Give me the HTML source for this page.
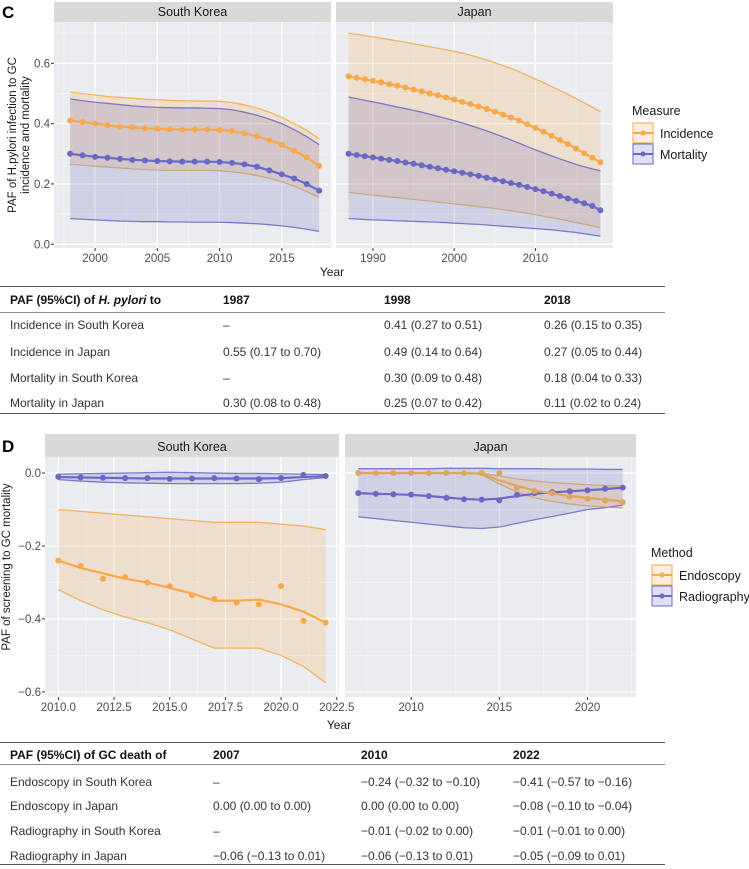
<!DOCTYPE html>
<html><head><meta charset="utf-8">
<style>
body{margin:0;width:749px;height:869px;background:#fff;font-family:"Liberation Sans",sans-serif;overflow:hidden;position:relative}
svg{position:absolute;left:0;top:0}
.t{position:absolute;font-size:12px;color:#333;white-space:nowrap;line-height:14px}
.b{font-weight:bold;color:#111}
.hl{position:absolute;left:0;width:665px;height:1px;background:#555}
</style></head><body>
<svg id="c" width="749" height="869"></svg>

<div class="hl" style="top:286px"></div>
<div class="t b" style="left:10px;top:293px">PAF (95%CI) of <i>H. pylori</i> to</div>
<div class="t b" style="left:223px;top:293px">1987</div>
<div class="t b" style="left:384px;top:293px">1998</div>
<div class="t b" style="left:544px;top:293px">2018</div>
<div class="hl" style="top:312px;background:#888"></div>
<div>
<div class="t" style="left:10px;top:318px">Incidence in South Korea</div><div class="t" style="left:223px;top:318px">–</div><div class="t" style="left:384px;top:318px">0.41 (0.27 to 0.51)</div><div class="t" style="left:544px;top:318px">0.26 (0.15 to 0.35)</div></div>
<div>
<div class="t" style="left:10px;top:345px">Incidence in Japan</div><div class="t" style="left:223px;top:345px">0.55 (0.17 to 0.70)</div><div class="t" style="left:384px;top:345px">0.49 (0.14 to 0.64)</div><div class="t" style="left:544px;top:345px">0.27 (0.05 to 0.44)</div></div>
<div>
<div class="t" style="left:10px;top:371px">Mortality in South Korea</div><div class="t" style="left:223px;top:371px">–</div><div class="t" style="left:384px;top:371px">0.30 (0.09 to 0.48)</div><div class="t" style="left:544px;top:371px">0.18 (0.04 to 0.33)</div></div>
<div>
<div class="t" style="left:10px;top:396px">Mortality in Japan</div><div class="t" style="left:223px;top:396px">0.30 (0.08 to 0.48)</div><div class="t" style="left:384px;top:396px">0.25 (0.07 to 0.42)</div><div class="t" style="left:544px;top:396px">0.11 (0.02 to 0.24)</div></div>
<div class="hl" style="top:413px"></div>

<div class="hl" style="top:742px"></div>
<div class="t b" style="left:10px;top:748px">PAF (95%CI) of GC death of</div>
<div class="t b" style="left:213px;top:748px">2007</div>
<div class="t b" style="left:361px;top:748px">2010</div>
<div class="t b" style="left:513px;top:748px">2022</div>
<div class="hl" style="top:764px;background:#888"></div>
<div>
<div class="t" style="left:10px;top:775px">Endoscopy in South Korea</div><div class="t" style="left:213px;top:775px">–</div><div class="t" style="left:361px;top:775px">−0.24 (−0.32 to −0.10)</div><div class="t" style="left:513px;top:775px">−0.41 (−0.57 to −0.16)</div></div>
<div>
<div class="t" style="left:10px;top:799px">Endoscopy in Japan</div><div class="t" style="left:213px;top:799px">0.00 (0.00 to 0.00)</div><div class="t" style="left:361px;top:799px">0.00 (0.00 to 0.00)</div><div class="t" style="left:513px;top:799px">−0.08 (−0.10 to −0.04)</div></div>
<div>
<div class="t" style="left:10px;top:824px">Radiography in South Korea</div><div class="t" style="left:213px;top:824px">–</div><div class="t" style="left:361px;top:824px">−0.01 (−0.02 to 0.00)</div><div class="t" style="left:513px;top:824px">−0.01 (−0.01 to 0.00)</div></div>
<div>
<div class="t" style="left:10px;top:849px">Radiography in Japan</div><div class="t" style="left:213px;top:849px">−0.06 (−0.13 to 0.01)</div><div class="t" style="left:361px;top:849px">−0.06 (−0.13 to 0.01)</div><div class="t" style="left:513px;top:849px">−0.05 (−0.09 to 0.01)</div></div>
<div class="hl" style="top:864px"></div>

<script>
// ---- Panel C data ----
const skYearsC=[1998,1999,2000,2001,2002,2003,2004,2005,2006,2007,2008,2009,2010,2011,2012,2013,2014,2015,2016,2017,2018];
const skInc=[0.41,0.405,0.40,0.395,0.39,0.388,0.385,0.383,0.381,0.38,0.38,0.38,0.379,0.375,0.368,0.358,0.345,0.33,0.31,0.288,0.26];
const skIncHi=[0.505,0.5,0.495,0.49,0.487,0.484,0.481,0.479,0.477,0.476,0.475,0.475,0.474,0.47,0.462,0.452,0.438,0.421,0.4,0.378,0.35];
const skIncLo=[0.265,0.262,0.259,0.256,0.253,0.25,0.248,0.246,0.245,0.245,0.245,0.245,0.244,0.24,0.235,0.228,0.219,0.207,0.193,0.175,0.155];
const skMor=[0.30,0.295,0.29,0.287,0.283,0.28,0.278,0.276,0.275,0.274,0.274,0.274,0.273,0.27,0.265,0.257,0.245,0.232,0.218,0.2,0.178];
const skMorHi=[0.482,0.476,0.471,0.467,0.463,0.459,0.456,0.454,0.453,0.452,0.452,0.451,0.45,0.446,0.438,0.428,0.415,0.4,0.38,0.357,0.33];
const skMorLo=[0.085,0.083,0.081,0.079,0.077,0.076,0.075,0.075,0.074,0.074,0.073,0.073,0.073,0.072,0.07,0.068,0.065,0.061,0.056,0.05,0.043];
const jpYearsC=[1987,1988,1989,1990,1991,1992,1993,1994,1995,1996,1997,1998,1999,2000,2001,2002,2003,2004,2005,2006,2007,2008,2009,2010,2011,2012,2013,2014,2015,2016,2017,2018];
const jpInc=[0.557,0.552,0.547,0.542,0.537,0.531,0.526,0.52,0.513,0.507,0.5,0.494,0.487,0.48,0.472,0.465,0.457,0.449,0.44,0.43,0.42,0.41,0.398,0.386,0.373,0.36,0.346,0.332,0.317,0.302,0.287,0.272];
const jpIncHi=[0.70,0.696,0.692,0.688,0.683,0.679,0.674,0.67,0.665,0.66,0.655,0.65,0.645,0.64,0.634,0.627,0.619,0.611,0.602,0.593,0.583,0.572,0.56,0.548,0.536,0.523,0.51,0.497,0.483,0.469,0.455,0.44];
const jpIncLo=[0.172,0.169,0.166,0.163,0.16,0.157,0.155,0.152,0.149,0.146,0.143,0.14,0.137,0.134,0.131,0.128,0.125,0.122,0.119,0.115,0.111,0.107,0.103,0.098,0.093,0.088,0.083,0.078,0.072,0.067,0.061,0.055];
const jpMor=[0.30,0.296,0.292,0.288,0.284,0.28,0.276,0.271,0.267,0.262,0.257,0.252,0.247,0.242,0.237,0.232,0.227,0.221,0.215,0.209,0.203,0.197,0.19,0.183,0.176,0.168,0.16,0.152,0.144,0.136,0.127,0.113];
const jpMorHi=[0.488,0.483,0.477,0.472,0.467,0.461,0.455,0.45,0.444,0.438,0.431,0.424,0.417,0.41,0.402,0.394,0.385,0.376,0.366,0.356,0.346,0.335,0.324,0.313,0.303,0.293,0.283,0.274,0.265,0.257,0.25,0.244];
const jpMorLo=[0.085,0.084,0.082,0.081,0.08,0.079,0.078,0.077,0.076,0.075,0.074,0.073,0.072,0.07,0.069,0.067,0.066,0.064,0.062,0.06,0.058,0.056,0.054,0.052,0.05,0.048,0.045,0.042,0.039,0.035,0.031,0.027];
// ---- Panel D data ----
const skYearsD=[2010,2011,2012,2013,2014,2015,2016,2017,2018,2019,2020,2021,2022];
const skEndoPts=[-0.24,-0.255,-0.29,-0.285,-0.30,-0.31,-0.335,-0.345,-0.355,-0.36,-0.31,-0.405,-0.41];
const skEndoFit=[-0.24,-0.26,-0.275,-0.29,-0.30,-0.315,-0.33,-0.35,-0.35,-0.347,-0.36,-0.38,-0.41];
const skEndoHi=[-0.10,-0.105,-0.11,-0.115,-0.12,-0.125,-0.13,-0.135,-0.135,-0.135,-0.14,-0.145,-0.155];
const skEndoLo=[-0.32,-0.35,-0.375,-0.395,-0.41,-0.43,-0.455,-0.48,-0.48,-0.48,-0.50,-0.53,-0.575];
const skRadPts=[-0.01,-0.012,-0.013,-0.014,-0.014,-0.016,-0.015,-0.014,-0.015,-0.017,-0.014,-0.005,-0.008];
const skRadFit=[-0.011,-0.012,-0.013,-0.014,-0.015,-0.015,-0.015,-0.015,-0.015,-0.015,-0.014,-0.011,-0.008];
const skRadHi=[-0.003,-0.002,-0.001,0.0,0.001,0.002,0.001,0.0,-0.001,-0.001,-0.002,-0.003,-0.004];
const skRadLo=[-0.018,-0.022,-0.025,-0.027,-0.028,-0.029,-0.029,-0.029,-0.029,-0.028,-0.025,-0.018,-0.012];
const jpYearsD=[2007,2008,2009,2010,2011,2012,2013,2014,2015,2016,2017,2018,2019,2020,2021,2022];
const jpEndoPts=[0.0,0.0,0.0,0.0,0.0,0.0,0.0,0.0,0.0,-0.04,-0.05,-0.055,-0.065,-0.07,-0.075,-0.08];
const jpEndoFit=[0.0,0.0,0.0,0.0,0.0,0.0,0.0,-0.002,-0.02,-0.035,-0.048,-0.056,-0.063,-0.068,-0.073,-0.078];
const jpEndoHi=[0.0,0.0,0.0,0.0,0.0,0.0,0.0,0.0,-0.008,-0.016,-0.022,-0.026,-0.029,-0.032,-0.034,-0.036];
const jpEndoLo=[0.0,0.0,0.0,0.0,0.0,0.0,0.0,-0.004,-0.03,-0.052,-0.068,-0.078,-0.085,-0.09,-0.093,-0.096];
const jpRadPts=[-0.055,-0.057,-0.058,-0.059,-0.063,-0.068,-0.072,-0.073,-0.075,-0.06,-0.055,-0.052,-0.05,-0.047,-0.043,-0.04];
const jpRadFit=[-0.055,-0.057,-0.058,-0.06,-0.063,-0.067,-0.071,-0.073,-0.07,-0.063,-0.057,-0.053,-0.05,-0.047,-0.044,-0.04];
const jpRadHi=[0.012,0.012,0.012,0.012,0.012,0.013,0.013,0.013,0.012,0.012,0.012,0.011,0.011,0.011,0.01,0.01];
const jpRadLo=[-0.12,-0.125,-0.13,-0.135,-0.14,-0.145,-0.15,-0.152,-0.148,-0.138,-0.128,-0.119,-0.11,-0.1,-0.095,-0.088];

const OR='#F7A94B', PU='#6A68C4';
const svg=document.getElementById('c');
const NS='http://www.w3.org/2000/svg';
function el(tag,attrs,parent){const e=document.createElementNS(NS,tag);for(const k in attrs)e.setAttribute(k,attrs[k]);(parent||svg).appendChild(e);return e;}
function txt(s,x,y,attrs){const t=el('text',Object.assign({x:x,y:y,'font-family':'Liberation Sans, sans-serif'},attrs));t.textContent=s;return t;}

function panel(o){
  const g=el('g',{});
  
  
  const X=v=>o.x0+(v-o.xmin)/(o.xmax-o.xmin)*(o.x1-o.x0);
  const Y=v=>o.y1-(v-o.ymin)/(o.ymax-o.ymin)*(o.y1-o.y0);
  el('rect',{x:o.x0,y:o.y0,width:o.x1-o.x0,height:o.y1-o.y0,fill:'#EBECEF'},g);
  const strip=el('rect',{x:o.x0,y:o.sy,width:o.x1-o.x0,height:o.y0-o.sy,fill:'#D9D9D9'},g);
  
  
  txt(o.title,(o.x0+o.x1)/2,o.y0-6,{'font-size':12.5,'text-anchor':'middle',fill:'#1a1a1a'});
  o.xminor.forEach(v=>el('line',{x1:X(v),x2:X(v),y1:o.y0,y2:o.y1,stroke:'#F6F6F7','stroke-width':0.7},g));
  o.yminor.forEach(v=>el('line',{x1:o.x0,x2:o.x1,y1:Y(v),y2:Y(v),stroke:'#F6F6F7','stroke-width':0.7},g));
  o.xticks.forEach((v,i)=>{el('line',{x1:X(v),x2:X(v),y1:o.y0,y2:o.y1,stroke:'#fff','stroke-width':1.3},g);
    el('line',{x1:X(v),x2:X(v),y1:o.y1,y2:o.y1+3,stroke:'#333','stroke-width':1},g);
    const t=txt(o.xlabels[i],X(v),o.y1+14,{'font-size':11.5,'text-anchor':'middle',fill:'#4d4d4d'});
    });
  o.yticks.forEach((v,i)=>{el('line',{x1:o.x0,x2:o.x1,y1:Y(v),y2:Y(v),stroke:'#fff','stroke-width':1.3},g);
    if(o.ylabels){el('line',{x1:o.x0-3,x2:o.x0,y1:Y(v),y2:Y(v),stroke:'#333','stroke-width':1},g);
    const t=txt(o.ylabels[i],o.x0-4,Y(v)+4,{'font-size':11.5,'text-anchor':'end',fill:'#4d4d4d'});
    }});
  o.series.forEach(s=>{
    const xs=s.years;
    let d='M'+xs.map((x,i)=>X(x)+','+Y(s.hi[i])).join('L')+'L'+xs.slice().reverse().map((x,j)=>X(x)+','+Y(s.lo[xs.length-1-j])).join('L')+'Z';
    const band=el('path',{d:d,fill:s.fill,'fill-opacity':0.2,stroke:'none'},g);
    
  });
  o.series.forEach(s=>{
    const xs=s.years;
    el('path',{d:'M'+xs.map((x,i)=>X(x)+','+Y(s.hi[i])).join('L'),fill:'none',stroke:s.hiCol||s.col,'stroke-width':1.3,'stroke-opacity':0.85},g);
    el('path',{d:'M'+xs.map((x,i)=>X(x)+','+Y(s.lo[i])).join('L'),fill:'none',stroke:s.loCol||s.col,'stroke-width':1.3,'stroke-opacity':0.85},g);
  });
  o.series.forEach(s=>{
    const xs=s.years;
    const ln=el('path',{d:'M'+xs.map((x,i)=>X(x)+','+Y(s.fit[i])).join('L'),fill:'none',stroke:s.col,'stroke-width':2.2},g);
    
    xs.forEach((x,i)=>{const c=el('circle',{cx:X(x),cy:Y(s.pts[i]),r:3,fill:s.col},g);
      });
  });
}

// Panel C
const incS=(y,f,h,l,lc)=>({key:'incidence',years:y,fit:f,pts:f,hi:h,lo:l,col:OR,fill:OR,loCol:'#C9A26E'});
panel({name:'panel-c-south-korea',title:'South Korea',x0:54,x1:331,y0:22,y1:248,sy:2,xmin:1996.7,xmax:2018.95,ymin:-0.0123,ymax:0.737,
  xticks:[2000,2005,2010,2015],xlabels:['2000','2005','2010','2015'],xminor:[1997.5,2002.5,2007.5,2012.5,2017.5],
  yticks:[0,0.2,0.4,0.6],ylabels:['0.0','0.2','0.4','0.6'],yminor:[0.1,0.3,0.5,0.7],
  series:[incS(skYearsC,skInc,skIncHi,skIncLo),{key:'mortality',years:skYearsC,fit:skMor,pts:skMor,hi:skMorHi,lo:skMorLo,col:PU,fill:PU}]});
panel({name:'panel-c-japan',title:'Japan',x0:336,x1:613,y0:22,y1:248,sy:2,xmin:1985.45,xmax:2019.55,ymin:-0.0123,ymax:0.737,
  xticks:[1990,2000,2010],xlabels:['1990','2000','2010'],xminor:[1985,1995,2005,2015],
  yticks:[0,0.2,0.4,0.6],ylabels:null,yminor:[0.1,0.3,0.5,0.7],
  series:[incS(jpYearsC,jpInc,jpIncHi,jpIncLo),{key:'mortality',years:jpYearsC,fit:jpMor,pts:jpMor,hi:jpMorHi,lo:jpMorLo,col:PU,fill:PU}]});

// Panel D
panel({name:'panel-d-south-korea',title:'South Korea',x0:45,x1:339,y0:457,y1:697,sy:434,xmin:2009.4,xmax:2022.6,ymin:-0.614,ymax:0.044,
  xticks:[2010,2012.5,2015,2017.5,2020,2022.5],xlabels:['2010.0','2012.5','2015.0','2017.5','2020.0','2022.5'],xminor:[2011.25,2013.75,2016.25,2018.75,2021.25],
  yticks:[-0.6,-0.4,-0.2,0],ylabels:['\u22120.6','\u22120.4','\u22120.2','0.0'],yminor:[-0.5,-0.3,-0.1],
  series:[{key:'endoscopy',years:skYearsD,fit:skEndoFit,pts:skEndoPts,hi:skEndoHi,lo:skEndoLo,col:OR,fill:OR},
          {key:'radiography',years:skYearsD,fit:skRadFit,pts:skRadPts,hi:skRadHi,lo:skRadLo,col:PU,fill:PU}]});
panel({name:'panel-d-japan',title:'Japan',x0:345,x1:636,y0:457,y1:697,sy:434,xmin:2006.25,xmax:2022.75,ymin:-0.614,ymax:0.044,
  xticks:[2010,2015,2020],xlabels:['2010','2015','2020'],xminor:[2007.5,2012.5,2017.5,2022.5],
  yticks:[-0.6,-0.4,-0.2,0],ylabels:null,yminor:[-0.5,-0.3,-0.1],
  series:[{key:'radiography',years:jpYearsD,fit:jpRadFit,pts:jpRadPts,hi:jpRadHi,lo:jpRadLo,col:PU,fill:PU},
          {key:'endoscopy',years:jpYearsD,fit:jpEndoFit,pts:jpEndoPts,hi:jpEndoHi,lo:jpEndoLo,col:'#E0A55E',fill:OR,hiCol:'#C9A26E',loCol:'#C9A26E'}]});

// Labels
let t;
t=txt('C',2,18,{'font-size':17,'font-weight':'bold',fill:'#000'});
t=txt('D',2,452,{'font-size':17,'font-weight':'bold',fill:'#000'});
t=txt('Year',332,276,{'font-size':12,'text-anchor':'middle',fill:'#1a1a1a'});
t=txt('Year',339,729,{'font-size':12,'text-anchor':'middle',fill:'#1a1a1a'});
t=txt('PAF of H.pylori infection to GC',0,0,{'font-size':11.5,'text-anchor':'middle',fill:'#1a1a1a',transform:'translate(16,135) rotate(-90)'});
t=txt('incidence and mortality',0,0,{'font-size':11.5,'text-anchor':'middle',fill:'#1a1a1a',transform:'translate(29,135) rotate(-90)'});
t=txt('PAF of screening to GC mortality',0,0,{'font-size':11.5,'text-anchor':'middle',fill:'#1a1a1a',transform:'translate(10,567) rotate(-90)'});

function legend(name,title,x,y,items){
  const g=el('g',{});
  
  
  txt(title,x,y,{'font-size':12.5,fill:'#1a1a1a'},);
  g.appendChild(svg.lastChild);
  items.forEach((it,i)=>{
    const yy=y+8+i*21;
    const e=el('g',{},g);
    
    
    el('rect',{x:x+1,y:yy,width:20,height:20,fill:it.c,'fill-opacity':0.2,stroke:it.c,'stroke-width':1},e);
    el('line',{x1:x+1,x2:x+21,y1:yy+10,y2:yy+10,stroke:it.c,'stroke-width':2},e);
    el('circle',{cx:x+11,cy:yy+10,r:2.5,fill:it.c},e);
    const tt=txt(it.l,x+28,yy+15,{'font-size':12.5,fill:'#1a1a1a'});e.appendChild(tt);
  });
}
legend('legend-measure','Measure',632,115,[{l:'Incidence',c:OR},{l:'Mortality',c:PU}]);
legend('legend-method','Method',651,557,[{l:'Endoscopy',c:OR},{l:'Radiography',c:PU}]);
</script>
</body></html>
